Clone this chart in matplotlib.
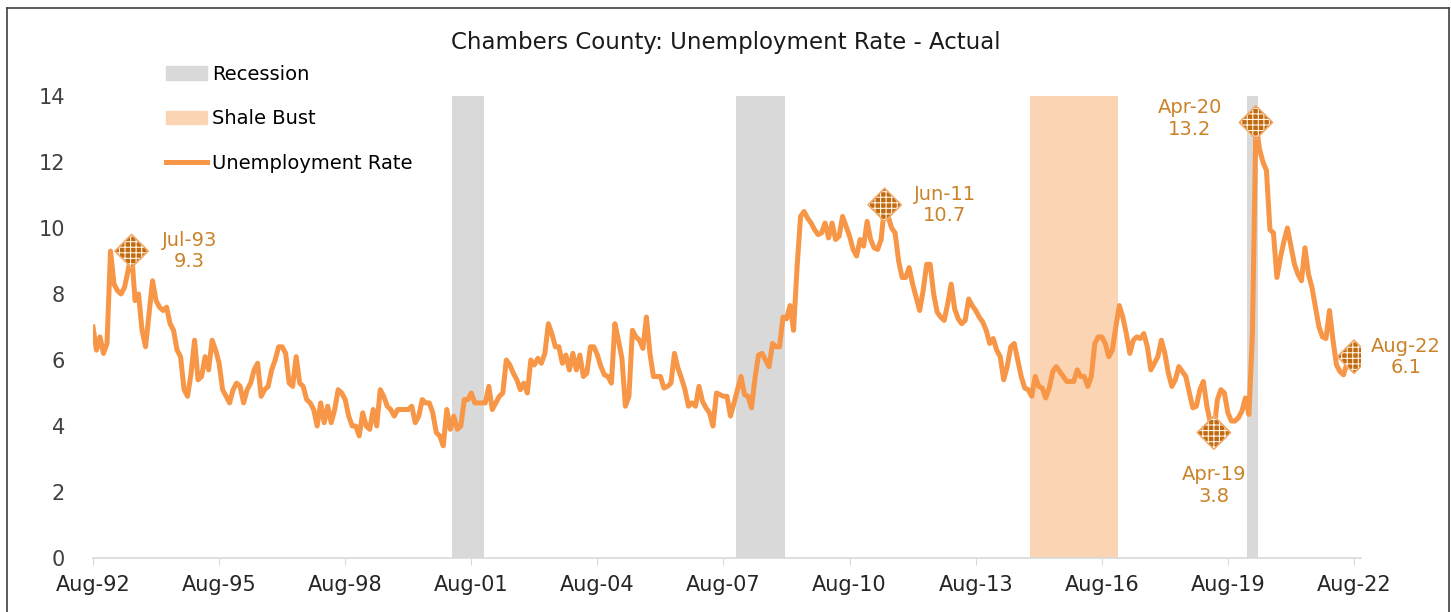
import matplotlib
matplotlib.use("Agg")
import matplotlib.pyplot as plt
import numpy as np
import pandas as pd
from matplotlib.patches import Patch
from matplotlib.lines import Line2D

# monthly unemployment rate, Aug-92 .. Aug-22 (one row = 12 months)
rate = [
    7.0, 6.3, 6.7, 6.2, 6.5, 9.3, 8.3, 8.1, 8.0, 8.2, 8.7, 9.3,
    7.8, 8.0, 6.9, 6.4, 7.4, 8.4, 7.8, 7.6, 7.5, 7.6, 7.1, 6.9,
    6.3, 6.1, 5.1, 4.9, 5.6, 6.6, 5.4, 5.5, 6.1, 5.7, 6.6, 6.3,
    5.9, 5.1, 4.9, 4.7, 5.1, 5.3, 5.2, 4.7, 5.1, 5.3, 5.7, 5.9,
    4.9, 5.1, 5.2, 5.7, 6.0, 6.4, 6.4, 6.2, 5.3, 5.2, 6.1, 5.3,
    5.2, 4.8, 4.7, 4.5, 4.0, 4.7, 4.1, 4.6, 4.1, 4.5, 5.1, 5.0,
    4.8, 4.3, 4.0, 4.0, 3.7, 4.4, 4.0, 3.9, 4.5, 4.0, 5.1, 4.9,
    4.6, 4.5, 4.3, 4.5, 4.5, 4.5, 4.5, 4.6, 4.1, 4.3, 4.8, 4.7,
    4.7, 4.4, 3.8, 3.7, 3.4, 4.5, 3.9, 4.3, 3.9, 4.0, 4.8, 4.8,
    5.0, 4.7, 4.7, 4.7, 4.7, 5.2, 4.5, 4.7, 4.9, 5.0, 6.0, 5.85,
    5.6, 5.4, 5.1, 5.3, 5.0, 6.0, 5.85, 6.05, 5.9, 6.2, 7.1, 6.8,
    6.4, 6.4, 5.9, 6.15, 5.7, 6.2, 5.7, 6.15, 5.5, 5.6, 6.4, 6.4,
    6.15, 5.8, 5.55, 5.5, 5.3, 7.1, 6.6, 6.05, 4.6, 4.9, 6.9, 6.7,
    6.6, 6.35, 7.3, 6.2, 5.5, 5.5, 5.5, 5.15, 5.2, 5.3, 6.2, 5.75,
    5.45, 5.1, 4.6, 4.7, 4.6, 5.2, 4.75, 4.55, 4.4, 4.0, 5.0, 4.95,
    4.9, 4.9, 4.3, 4.7, 5.1, 5.5, 4.95, 4.9, 4.55, 5.45, 6.15, 6.2,
    6.0, 5.8, 6.5, 6.4, 6.4, 7.3, 7.25, 7.65, 6.9, 8.8, 10.35, 10.5,
    10.3, 10.15, 9.95, 9.8, 9.85, 10.15, 9.7, 10.15, 9.65, 9.75, 10.35, 10.05,
    9.75, 9.35, 9.15, 9.65, 9.45, 10.2, 9.65, 9.4, 9.35, 9.65, 10.7, 10.35,
    10.0, 9.85, 9.0, 8.5, 8.5, 8.8, 8.3, 7.9, 7.5, 8.1, 8.9, 8.9,
    8.0, 7.45, 7.3, 7.2, 7.7, 8.3, 7.55, 7.25, 7.1, 7.2, 7.85, 7.65,
    7.5, 7.3, 7.15, 6.9, 6.5, 6.65, 6.3, 6.1, 5.4, 5.8, 6.4, 6.5,
    6.0, 5.5, 5.15, 5.1, 4.9, 5.5, 5.2, 5.15, 4.85, 5.15, 5.65, 5.8,
    5.65, 5.5, 5.35, 5.35, 5.35, 5.7, 5.5, 5.5, 5.2, 5.5, 6.5, 6.7,
    6.7, 6.5, 6.1, 6.3, 7.0, 7.65, 7.3, 6.8, 6.2, 6.6, 6.7, 6.65,
    6.8, 6.4, 5.7, 5.9, 6.1, 6.6, 6.2, 5.6, 5.2, 5.4, 5.8, 5.65,
    5.5, 5.0, 4.55, 4.6, 5.1, 5.35, 4.6, 4.1, 3.8, 4.8, 5.1, 5.0,
    4.4, 4.15, 4.15, 4.25, 4.45, 4.85, 4.35, 6.8, 13.2, 12.4, 12.0, 11.75,
    9.95, 9.85, 8.5, 9.1, 9.6, 10.0, 9.45, 8.9, 8.6, 8.4, 9.4, 8.6,
    8.2, 7.6, 7.0, 6.7, 6.65, 7.5, 6.6, 5.85, 5.65, 5.55, 5.9, 6.0, 6.1,
]
months = pd.period_range("1992-08", "2022-08", freq="M")
month_labels = [p.strftime("%b-%y") for p in months]

recessions = [("2001-03", "2001-11"), ("2007-12", "2009-01"), ("2020-02", "2020-04")]
shale_bust = ("2014-12", "2016-12")
highlights = ["Jul-93", "Jun-11", "Apr-19", "Apr-20", "Aug-22"]
# label offsets in pixels (dx, dy) for each highlighted point
offsets = [(58, 0), (60, 0), (0, -53), (-66, 4), (52, 0)]


def idx(ym):
    return months.get_loc(pd.Period(ym, freq="M"))


x = np.arange(len(rate))
line_col = "#F79646"
lab_col = "#CB8329"

fig = plt.figure(figsize=(14.51, 6.12), dpi=100)
ax = fig.add_axes([93 / 1451, 54 / 612, 1268 / 1451, 462 / 612])

for a, b in recessions:
    ax.axvspan(idx(a) - 0.5, idx(b) + 0.5, color="#D9D9D9", lw=0, zorder=1)
ax.axvspan(idx(shale_bust[0]) - 0.5, idx(shale_bust[1]) + 0.5, color="#FBD4B4", lw=0, zorder=1)

ax.plot(x, rate, color=line_col, lw=3.6, zorder=3, solid_joinstyle="round")

plt.rcParams["hatch.linewidth"] = 0.8
for lab, (dx, dy) in zip(highlights, offsets):
    i = month_labels.index(lab)
    ax.scatter([i], [rate[i]], s=290, marker="D", facecolor="#C06A12",
               edgecolor="#FFF3E6", hatch="+++", lw=0.8, zorder=4)
    ax.scatter([i], [rate[i]], s=290, marker="D", facecolor="none",
               edgecolor="#F2A35E", lw=1.0, zorder=4)
    ax.annotate(f"{lab}\n{rate[i]:.1f}", (i, rate[i]), xytext=(dx, dy),
                textcoords="offset pixels", ha="center", va="center",
                color=lab_col, fontsize=14, linespacing=1.15, zorder=5)

ax.set_xlim(0, 362)
ax.set_ylim(0, 14)
ax.set_xticks(x[::36])
ax.set_xticklabels(month_labels[::36])
ax.set_yticks(range(0, 15, 2))
for s in ["top", "right", "left"]:
    ax.spines[s].set_visible(False)
ax.spines["bottom"].set_color("#D9D9D9")
ax.spines["bottom"].set_linewidth(1.2)
ax.tick_params(axis="x", length=5, color="#D9D9D9", pad=7, labelsize=15, labelcolor="#262626")
ax.tick_params(axis="y", length=0, pad=20, labelsize=15, labelcolor="#404040")

handles = [Patch(color="#D9D9D9"), Patch(color="#FBD4B4"), Line2D([], [], color=line_col, lw=3.6)]
ax.legend(handles, ["Recession", "Shale Bust", "Unemployment Rate"], loc="upper left",
          bbox_to_anchor=(166 / 1451, 1 - 65 / 612), bbox_transform=fig.transFigure,
          frameon=False, fontsize=14, handlelength=2.1, handletextpad=0.25,
          labelspacing=1.3, borderpad=0, borderaxespad=0)

fig.text(0.5, 1 - 42 / 612, "Chambers County: Unemployment Rate - Actual",
         ha="center", va="center", fontsize=16.5, color="#1a1a1a")

# outer frame
W, H = 1451, 612
for xs, ys in [([7, 7], [612, 8]), ([7, 1449], [8, 8]), ([1449, 1449], [8, 612])]:
    fig.add_artist(Line2D([v / W for v in xs], [1 - v / H for v in ys],
                          transform=fig.transFigure, color="#404040", lw=1.2))

fig.savefig("out.png", dpi=100)
